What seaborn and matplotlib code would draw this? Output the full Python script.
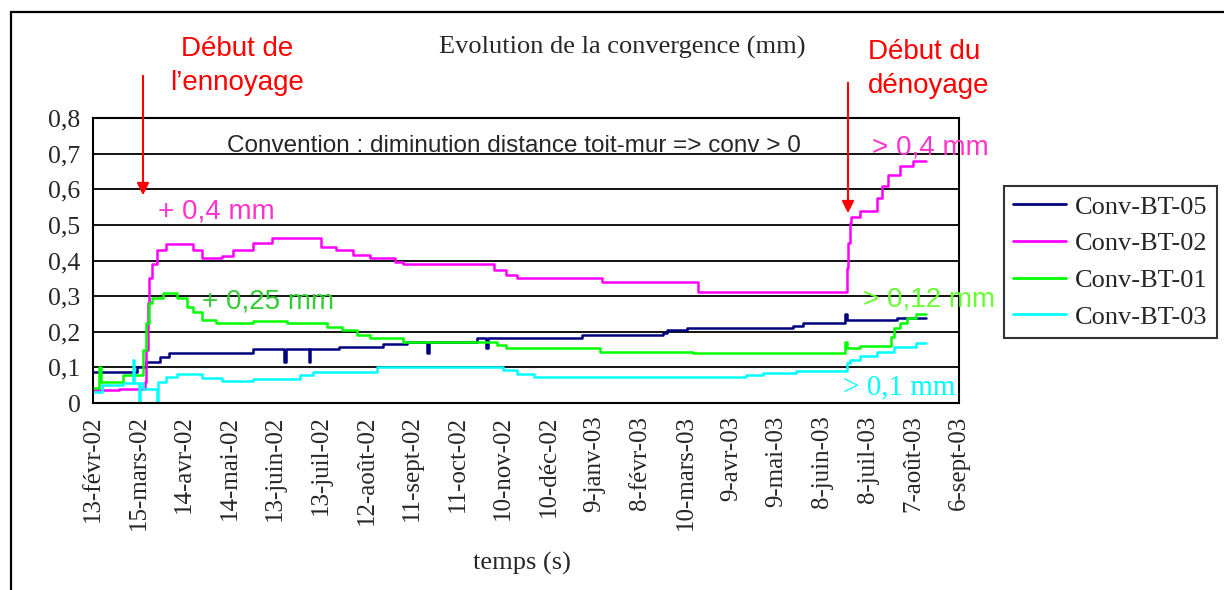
import matplotlib
matplotlib.use('Agg')
import matplotlib.pyplot as plt
from matplotlib.patches import Rectangle
import pandas as pd
import seaborn as sns

# ---- data ----
start = pd.Timestamp('2002-02-13')

# days since 13-févr-02 where each step starts, and the level in mm
bt05_days = [0, 29, 35, 44, 50, 105, 126, 127, 142, 143, 162, 191, 207, 220, 221, 253,
             259, 260, 322, 375, 378, 391, 461, 467, 495, 496, 529, 548]
bt05_vals = [0.088, 0.102, 0.116, 0.13, 0.14, 0.151, 0.115, 0.151, 0.115, 0.151, 0.156, 0.166,
             0.172, 0.14, 0.172, 0.182, 0.155, 0.182, 0.191, 0.197, 0.205, 0.21, 0.216, 0.224,
             0.25, 0.233, 0.24, 0.24]

bt02_days = [0, 17, 34, 35, 36, 37, 39, 42, 48, 66, 72, 85, 92, 105, 118, 150, 160, 171, 182,
             199, 204, 264, 272, 279, 335, 398, 496, 497, 498, 499, 505, 516, 519, 523, 531,
             540, 548]
bt02_vals = [0.037, 0.04, 0.06, 0.15, 0.28, 0.35, 0.39, 0.43, 0.446, 0.43, 0.407, 0.414, 0.43,
             0.449, 0.463, 0.439, 0.43, 0.416, 0.407, 0.397, 0.39, 0.374, 0.36, 0.35, 0.341,
             0.311, 0.38, 0.45, 0.505, 0.523, 0.54, 0.575, 0.608, 0.64, 0.664, 0.68, 0.68]

bt01_days = [0, 4, 5, 13, 20, 33, 35, 37, 39, 46, 55, 62, 66, 72, 81, 105, 128, 154, 164, 174,
             182, 204, 266, 272, 334, 395, 495, 496, 505, 525, 527, 531, 536, 542, 548]
bt01_vals = [0.042, 0.1, 0.06, 0.06, 0.079, 0.15, 0.225, 0.28, 0.295, 0.31, 0.295, 0.27, 0.256,
             0.233, 0.224, 0.231, 0.224, 0.213, 0.205, 0.191, 0.182, 0.172, 0.163, 0.154, 0.144,
             0.14, 0.17, 0.154, 0.16, 0.186, 0.21, 0.224, 0.238, 0.249, 0.249]

bt03_days = [0, 6, 20, 26, 27, 30, 31, 33, 42, 43, 48, 55, 72, 85, 105, 136, 145, 187, 270, 279,
             290, 430, 441, 463, 496, 498, 505, 516, 527, 542, 548]
bt03_vals = [0.032, 0.05, 0.055, 0.12, 0.055, 0.0, 0.055, 0.04, 0.0, 0.06, 0.074, 0.081, 0.069,
             0.062, 0.066, 0.079, 0.088, 0.1, 0.093, 0.081, 0.072, 0.079, 0.085, 0.091, 0.111,
             0.121, 0.132, 0.144, 0.158, 0.168, 0.168]

series_names = ['Conv-BT-05', 'Conv-BT-02', 'Conv-BT-01', 'Conv-BT-03']
series_colors = ['#000080', '#FF00FF', '#00FF00', '#00FFFF']

tick_labels = ['13-févr-02', '15-mars-02', '14-avr-02', '14-mai-02', '13-juin-02', '13-juil-02',
               '12-août-02', '11-sept-02', '11-oct-02', '10-nov-02', '10-déc-02', '9-janv-03',
               '8-févr-03', '10-mars-03', '9-avr-03', '9-mai-03', '8-juin-03', '8-juil-03',
               '7-août-03', '6-sept-03']
y_labels = ['0', '0,1', '0,2', '0,3', '0,4', '0,5', '0,6', '0,7', '0,8']

# ---- build long table ----
rows = []
for name, days, vals in zip(series_names,
                            [bt05_days, bt02_days, bt01_days, bt03_days],
                            [bt05_vals, bt02_vals, bt01_vals, bt03_vals]):
    for d, v in zip(days, vals):
        rows.append({'date': start + pd.Timedelta(days=d), 'conv': v, 'capteur': name})
df = pd.DataFrame(rows)

sns.set_style('white')
SERIF = ['Liberation Serif', 'DejaVu Serif']
SANS = ['Liberation Sans', 'DejaVu Sans']

W, H = 1224, 590
fig = plt.figure(figsize=(W / 100, H / 100), dpi=100)
fig.patch.set_facecolor('white')


def px(x, y):
    return x / W, 1 - y / H


ax = fig.add_axes([93 / W, 1 - 403 / H, (959 - 93) / W, (403 - 118) / H])
sns.lineplot(data=df, x='date', y='conv', hue='capteur', hue_order=series_names,
             palette=series_colors, estimator=None, drawstyle='steps-post',
             linewidth=1.8, ax=ax, legend=True)

# axes
ax.set_ylim(0, 0.8)
ax.set_xlim(start, start + pd.Timedelta(days=570))
ax.set_yticks([i / 10 for i in range(9)])
ax.set_yticklabels(y_labels, family=SERIF, fontsize=18.5)
ax.set_xticks([start + pd.Timedelta(days=30 * k) for k in range(len(tick_labels))])
ax.set_xticklabels(tick_labels, rotation=90, family=SERIF, fontsize=18)
ax.tick_params(axis='both', direction='out', length=7, width=1.5, color='black', pad=2)
ax.set_xlabel('')
ax.set_ylabel('')
for s in ax.spines.values():
    s.set_color('black')
    s.set_linewidth(1.5)
ax.yaxis.grid(True, color='black', linewidth=1.3)
ax.set_axisbelow(True)

# legend outside on the right
handles, labels = ax.get_legend_handles_labels()
ax.get_legend().remove()
leg = fig.legend(handles, labels, loc='upper left', bbox_to_anchor=px(1004, 186),
                 prop={'family': SERIF, 'size': 19}, frameon=True, fancybox=False,
                 edgecolor='black', handlelength=2.0, handletextpad=0.35,
                 labelspacing=0.5, borderpad=0.35, borderaxespad=0)
leg.get_frame().set_linewidth(1.5)
for line in leg.get_lines():
    line.set_linewidth(2)

# texts
fig.text(*px(622, 47), 'Evolution de la convergence (mm)', family=SERIF, fontsize=19,
         ha='center', va='center')
fig.text(*px(522, 563), 'temps (s)', family=SERIF, fontsize=19, ha='center', va='center')
fig.text(*px(514, 146), 'Convention : diminution distance toit-mur => conv > 0',
         family=SANS, fontsize=17.5, ha='center', va='center')

fig.text(*px(237, 66), 'Début de\nl’ennoyage', family=SANS, fontsize=20, color='red',
         ha='center', va='center', linespacing=1.38)
fig.text(*px(868, 69), 'Début du\ndénoyage', family=SANS, fontsize=20, color='red',
         ha='left', va='center', linespacing=1.38)

fig.text(*px(158, 212), '+ 0,4 mm', family=SANS, fontsize=20, color='#FF33CC',
         ha='left', va='center')
fig.text(*px(202, 302), '+ 0,25 mm', family=SANS, fontsize=20, color='#33CC33',
         ha='left', va='center')
fig.text(*px(872, 147), '> 0,4 mm', family=SANS, fontsize=20, color='#FF33CC',
         ha='left', va='center')
fig.text(*px(863, 299), '> 0,12 mm', family=SANS, fontsize=20, color='#66FF33',
         ha='left', va='center')
fig.text(*px(843, 387), '> 0,1 mm', family=SERIF, fontsize=21, color='#00FFFF',
         ha='left', va='center')

# arrows
ax.annotate('', xy=px(143, 198), xycoords='figure fraction', xytext=px(143, 73),
            textcoords='figure fraction',
            arrowprops=dict(arrowstyle='-|>', color='red', lw=1.5, mutation_scale=18))
ax.annotate('', xy=px(848, 216), xycoords='figure fraction', xytext=px(848, 80),
            textcoords='figure fraction',
            arrowprops=dict(arrowstyle='-|>', color='red', lw=1.5, mutation_scale=18))

# outer chart frame
fig.add_artist(Rectangle(px(10.5, 640), 1.2, (640 - 12) / H, transform=fig.transFigure,
                         fill=False, edgecolor='black', linewidth=1.6, clip_on=False))

fig.savefig('out.png', dpi=100, facecolor='white')
